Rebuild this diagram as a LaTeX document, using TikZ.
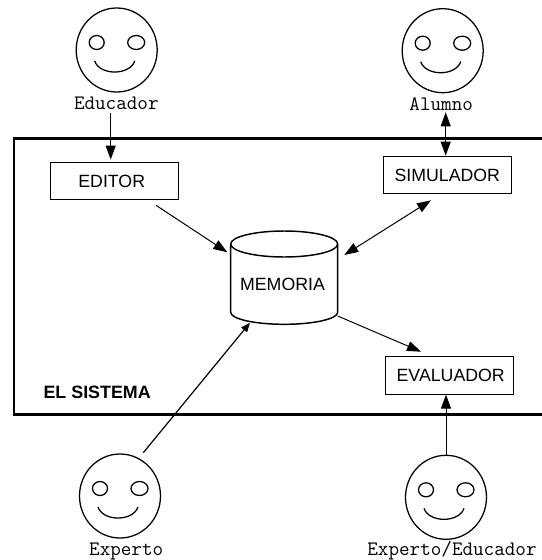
\documentclass[tikz,border=0pt]{standalone}
\usepackage{fontspec}
\setmainfont{Liberation Sans}
\usetikzlibrary{arrows.meta,shapes.geometric}
\newcommand{\carita}[3]{%
  \node[facenode] (#1) at (#2,#3) {};
  \draw[facepart] (#2-20,#3-7.5) ellipse [x radius=7.5,y radius=7];
  \draw[facepart] (#2+19.5,#3-7.5) ellipse [x radius=8.5,y radius=7];
  \draw[facepart] (#2-22,#3+11) .. controls (#2-17,#3+25.7) and (#2+13,#3+25.7) .. (#2+18,#3+11);
}
\tikzset{
  x=0.75pt,y=-0.75pt,
  facenode/.style={draw,ellipse,line width=0.95pt,minimum width=60.75pt,minimum height=63pt,inner sep=0pt},
  facepart/.style={line width=0.95pt},
  modulebox/.style={draw,line width=0.75pt,minimum width=96pt,minimum height=28pt,inner sep=0pt,font=\fontsize{13.3pt}{15pt}\selectfont,text height=9.5pt,text depth=0pt},
  personname/.style={anchor=base,inner sep=0pt,font=\ttfamily\fontsize{15.4pt}{17pt}\selectfont},
  frameline/.style={line width=2.1pt},
  cyl/.style={line width=1.1pt},
  conn/.style={line width=0.75pt,-{Triangle[length=10.5pt,width=7.5pt]}},
  conndouble/.style={line width=0.75pt,{Triangle[length=10.5pt,width=7.5pt]}-{Triangle[length=10.5pt,width=7.5pt]}},
  connsmall/.style={line width=0.9pt,-{Triangle[length=7pt,width=5.5pt]}}
}
\begin{document}
\begin{tikzpicture}
\useasboundingbox (0,0) rectangle (542,560);
% frame
\draw[frameline] (542,138.3) -- (14,138.3) -- (14,414.7) -- (542,414.7);
\node[anchor=base west,inner sep=0pt,font=\bfseries\fontsize{13.4pt}{15pt}\selectfont] (sistema) at (43.3,398) {EL SISTEMA};
% faces
\carita{educador}{116.7}{50}
\carita{alumno}{442.7}{50.7}
\carita{experto}{120}{496}
\carita{expedu}{446}{497.3}
\node[personname] (leducador) at (116.3,109) {Educador};
\node[personname] (lalumno) at (441.2,110.3) {Alumno};
\node[personname] (lexperto) at (126.2,555.3) {Experto};
\node[personname] (lexpedu) at (452,555.3) {Experto/Educador};
% modules
\node[modulebox] (editor) at (114.15,180.75) {\kern-3.6pt EDITOR};
\node[modulebox] (simulador) at (447.3,174.8) {SIMULADOR};
\node[modulebox] (evaluador) at (449,375.5) {\kern2.55pt EVALUADOR};
% memoria
\draw[cyl] (230.7,244) arc [start angle=180,end angle=-180,x radius=53.5,y radius=13];
\draw[cyl] (230.7,244) -- (230.7,312.3) arc [start angle=180,end angle=0,x radius=53.5,y radius=12] -- (337.7,244);
\node[inner sep=0pt,anchor=base,font=\fontsize{13.3pt}{15pt}\selectfont] (memoria) at (282.5,290) {MEMORIA};
% connector ends
\coordinate (a1) at (110.7,112.7);
\coordinate (a2) at (156,205.3);
\coordinate (a3) at (227.3,252.3);
\coordinate (a4) at (344.3,255);
\coordinate (a5) at (431,200.3);
\coordinate (a6) at (445.7,112.3);
\coordinate (a7) at (143.3,452.7);
\coordinate (a8) at (250,322.7);
\coordinate (a9) at (337.7,316);
\coordinate (a10) at (421,351.7);
% connectors
\draw[conn,shorten >=1.5pt] (a1) -- (a1 |- editor.north);
\draw[conn] (a2) -- (a3);
\draw[conndouble] (a4) -- (a5);
\draw[conndouble] (a6) -- (a6 |- simulador.north);
\draw[connsmall] (a7) -- (a8);
\draw[conn] (a9) -- (a10);
\draw[conn] (expedu.north) -- (expedu.north |- evaluador.south);
\end{tikzpicture}
\end{document}
